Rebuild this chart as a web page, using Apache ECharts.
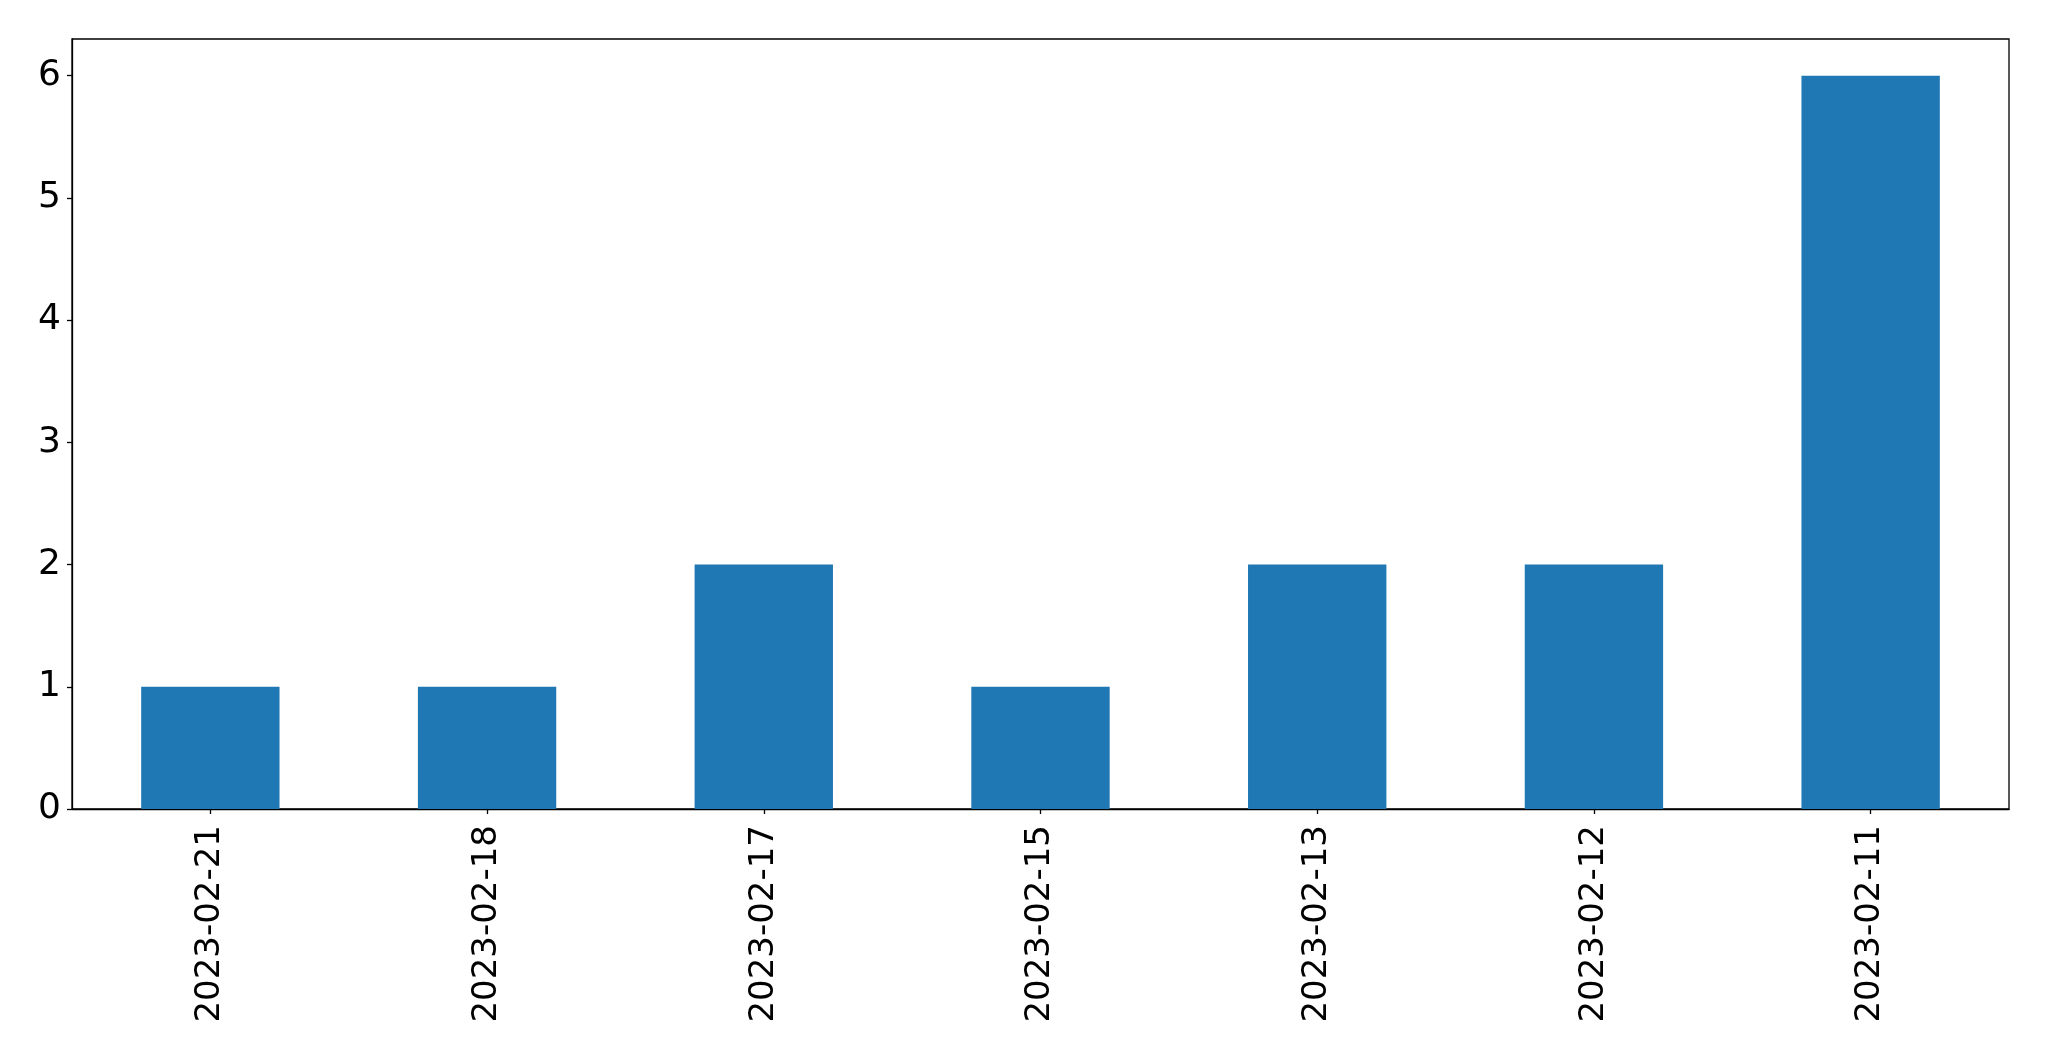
<!DOCTYPE html>
<html>
<head>
<meta charset="utf-8">
<script src="https://cdn.jsdelivr.net/npm/echarts@6/dist/echarts.min.js"></script>
<style>html,body{margin:0;padding:0;background:#fff}#c{width:2049px;height:1061px}</style>
</head>
<body>
<div id="c"></div>
<script>
const categories = ['2023-02-21','2023-02-18','2023-02-17','2023-02-15','2023-02-13','2023-02-12','2023-02-11'];
const counts = [1, 1, 2, 1, 2, 2, 6];
const yTicks = [0, 1, 2, 3, 4, 5, 6];

const chart = echarts.init(document.getElementById('c'), null, {renderer: 'canvas'});
const font = 'DejaVu Sans';
chart.setOption({
  animation: false,
  backgroundColor: '#fff',
  grid: {left: 72, top: 39, width: 1937, height: 770, show: true, borderColor: '#000', borderWidth: 1.3, backgroundColor: 'transparent'},
  xAxis: {
    type: 'category',
    data: categories,
    boundaryGap: true,
    axisLine: {show: true, lineStyle: {color: '#000', width: 1.3}},
    axisTick: {show: true, alignWithLabel: true, length: 5, lineStyle: {color: '#000', width: 1.3}},
    axisLabel: {rotate: 90, fontSize: 34, fontFamily: font, color: '#000', margin: 16},
    splitLine: {show: false}
  },
  yAxis: {
    type: 'value',
    min: 0,
    max: 6.3,
    axisLine: {show: true, lineStyle: {color: '#000', width: 1.3}},
    axisTick: {show: true, length: 5, customValues: yTicks, lineStyle: {color: '#000', width: 1.3}},
    axisLabel: {fontSize: 36, fontFamily: font, color: '#000', margin: 11, customValues: yTicks},
    splitLine: {show: false}
  },
  series: [{
    type: 'bar',
    data: counts,
    barWidth: '50%',
    itemStyle: {color: '#1f77b4'}
  }]
});
</script>
</body>
</html>
